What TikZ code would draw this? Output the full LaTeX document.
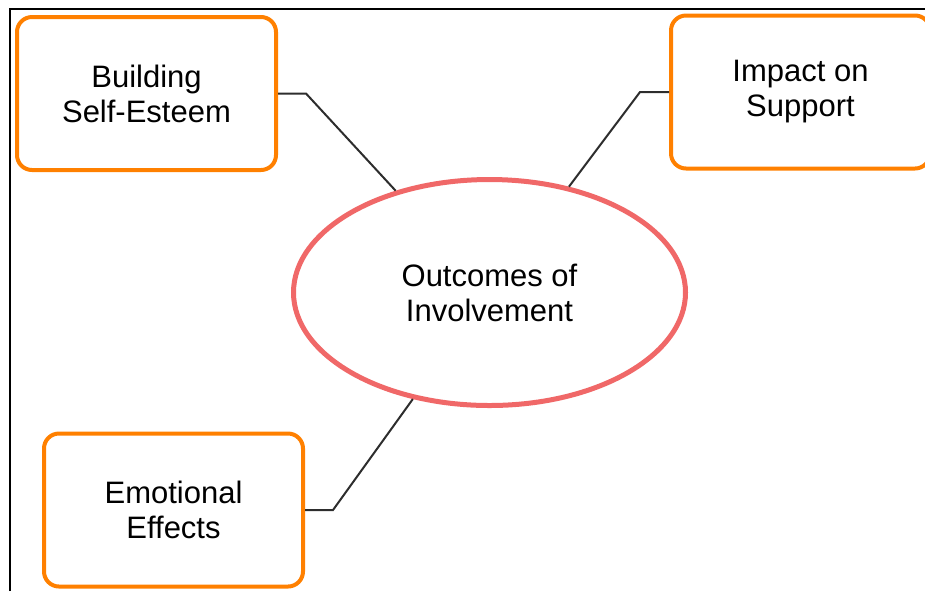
\documentclass[tikz,border=0pt]{standalone}
\usepackage{fontspec}
\setmainfont{Liberation Sans}
\usetikzlibrary{positioning,shapes.geometric}
\definecolor{boxorange}{RGB}{255,128,0}
\definecolor{ovalred}{RGB}{240,104,104}
\definecolor{linegray}{RGB}{45,45,45}

\begin{document}
\begin{tikzpicture}[x=0.5pt,y=-0.5pt,
    topic/.style={draw=boxorange,line width=2pt,rounded corners=7.5pt,fill=white,
      minimum width=129.5pt,minimum height=76.5pt,align=center,
      font=\fontsize{15.5}{17.5}\selectfont},
    hub/.style={ellipse,draw=ovalred,line width=2.5pt,fill=white,
      minimum width=196pt,minimum height=113pt,align=center,
      font=\fontsize{15.5}{17.5}\selectfont},
    link/.style={draw=linegray,line width=1pt}]
      \useasboundingbox (0,0) rectangle (925,591);
      \draw[line width=1pt] (10,591) -- (10,9) -- (925,9);
      \node[hub] (Hub) at (489.5,292.5) {Outcomes of\\Involvement};
      \node[topic] (Esteem)  at (146.5,93.5) {Building\\Self-Esteem};
      \node[topic] (Support) at (800.5,92)   {Impact on\\Support};
      \node[topic] (Emotion) at (173.5,510)  {Emotional\\Effects};
      \draw[link] (Esteem.east) -- ++(28,0) -- (Hub);
      \draw[link] (Support.west) -- ++(-29,0) -- (Hub);
      \draw[link] (Emotion.east) -- ++(28,0) -- (Hub);
    \end{tikzpicture}
\end{document}
